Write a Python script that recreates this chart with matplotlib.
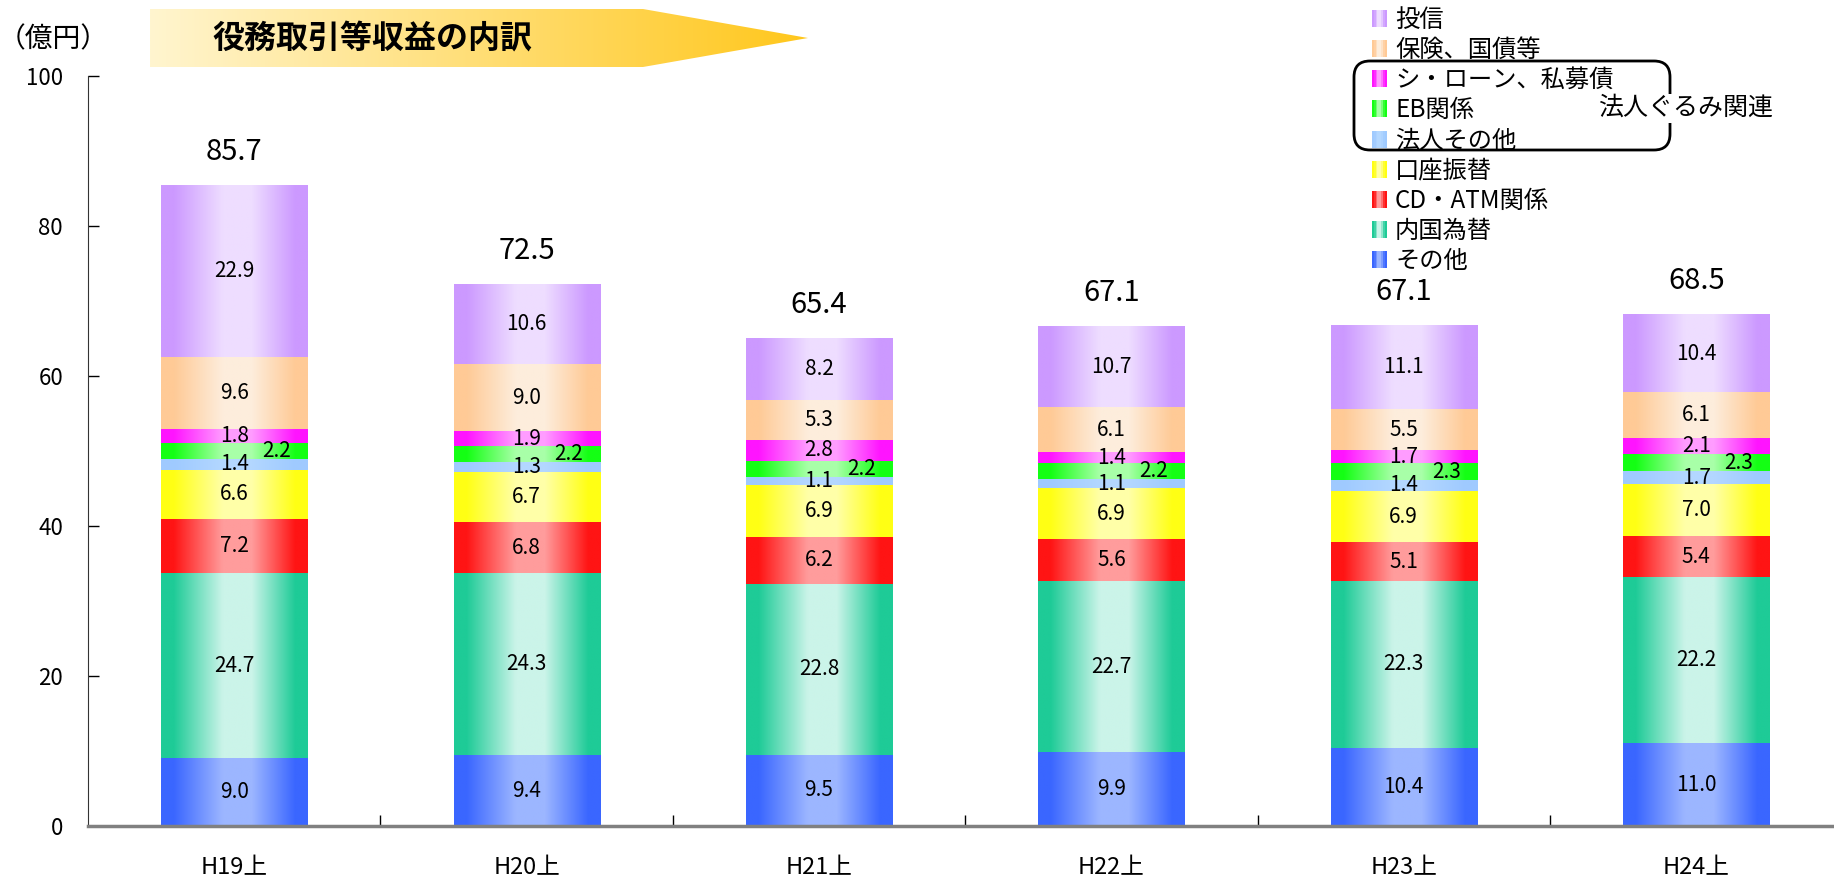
import numpy as np
import matplotlib
matplotlib.use("Agg")
import matplotlib.pyplot as plt
from matplotlib.patches import Rectangle, Polygon, FancyBboxPatch
from matplotlib.legend_handler import HandlerBase

plt.rcParams['font.family'] = ['Noto Sans CJK JP', 'DejaVu Sans']

# data (bottom -> top)
periods = ['H19上', 'H20上', 'H21上', 'H22上', 'H23上', 'H24上']
series = ['その他', '内国為替', 'CD・ATM関係', '口座振替', '法人その他',
          'EB関係', 'シ・ローン、私募債', '保険、国債等', '投信']
sonota = [9.0, 9.4, 9.5, 9.9, 10.4, 11.0]
naikoku = [24.7, 24.3, 22.8, 22.7, 22.3, 22.2]
cd_atm = [7.2, 6.8, 6.2, 5.6, 5.1, 5.4]
koza = [6.6, 6.7, 6.9, 6.9, 6.9, 7.0]
hojin_other = [1.4, 1.3, 1.1, 1.1, 1.4, 1.7]
eb = [2.2, 2.2, 2.2, 2.2, 2.3, 2.3]
syndicate = [1.8, 1.9, 2.8, 1.4, 1.7, 2.1]
hoken = [9.6, 9.0, 5.3, 6.1, 5.5, 6.1]
toshin = [22.9, 10.6, 8.2, 10.7, 11.1, 10.4]
totals = ['85.7', '72.5', '65.4', '67.1', '67.1', '68.5']

values = [sonota, naikoku, cd_atm, koza, hojin_other, eb, syndicate, hoken, toshin]

# (edge colour, centre colour)
colors = [('#3a66ff', '#9cb6ff'), ('#1ecb97', '#cbf4e9'), ('#ff1414', '#ff9c9c'),
          ('#ffff14', '#ffffa8'), ('#9fcaff', '#b3d7ff'), ('#14ff14', '#a8ffa8'),
          ('#ff14ff', '#ff9cff'), ('#ffca96', '#fdeddc'), ('#cc99ff', '#eeddff')]


def profile(n=64):
    t = np.linspace(0, 1, n)
    return np.interp(t, [0, 0.08, 0.42, 0.62, 0.92, 1], [0, 0, 1, 1, 0, 0])


def grad_row(edge, center, n=64):
    e = np.array(matplotlib.colors.to_rgb(edge))
    c = np.array(matplotlib.colors.to_rgb(center))
    w = profile(n)[:, None]
    return (e * (1 - w) + c * w)[None, :, :]


class Swatch:
    def __init__(self, edge, center):
        self.edge, self.center = edge, center


class SwatchHandler(HandlerBase):
    def create_artists(self, legend, h, xd, yd, width, height, fontsize, trans):
        row = grad_row(h.edge, h.center, 8)[0]
        arts = []
        for k in range(8):
            r = Rectangle((-xd + width * k / 8, -yd), width / 8 + 0.3, height,
                          facecolor=row[k], edgecolor='none', transform=trans)
            arts.append(r)
        return arts


W, H = 1834, 881
fig = plt.figure(figsize=(W / 100, H / 100), dpi=100)
ax = fig.add_axes([88 / W, 55 / H, 6 * 292.4 / W, 750 / H])

x = np.arange(len(periods))
bottom = np.zeros(len(periods))
for vals, (edge, center) in zip(values, colors):
    bars = ax.bar(x, vals, bottom=bottom, width=0.5, color='none', edgecolor='none')
    img = grad_row(edge, center)
    for rect in bars:
        x0, y0 = rect.get_x(), rect.get_y()
        ax.imshow(img, extent=[x0, x0 + rect.get_width(), y0, y0 + rect.get_height()],
                  aspect='auto', origin='lower', interpolation='bilinear', zorder=2)
    bottom = bottom + np.array(vals)

# segment labels
bottom = np.zeros(len(periods))
for si, vals in enumerate(values):
    for i, v in enumerate(vals):
        dx = 0.145 if series[si] == 'EB関係' else 0
        ax.text(x[i] + dx, bottom[i] + v / 2, f'{v:.1f}', ha='center', va='center',
                fontsize=15, zorder=4)
    bottom = bottom + np.array(vals)

for i, t in enumerate(totals):
    ax.annotate(t, (x[i], bottom[i]), xytext=(0, 24), textcoords='offset points',
                ha='center', va='center', fontsize=21)

ax.set_xlim(-0.5, 5.5)
ax.set_ylim(0, 100)
ax.set_yticks(np.arange(0, 101, 20))
ax.set_xticks(x)
ax.set_xticklabels(periods)
ax.set_xticks(x[:-1] + 0.5, minor=True)
ax.tick_params(axis='y', direction='in', length=8, width=1, labelsize=16, pad=18)
ax.tick_params(axis='x', which='major', length=0, labelsize=17, pad=22)
ax.tick_params(axis='x', which='minor', direction='in', length=8, width=1)
for s in ['top', 'right']:
    ax.spines[s].set_visible(False)
ax.spines['left'].set_color('#333333')
ax.spines['bottom'].set_color('#808080')
ax.spines['bottom'].set_linewidth(2.5)
ax.spines['bottom'].set_zorder(3)

# legend (top -> bottom)
handles = [Swatch(*c) for c in colors][::-1]
fig.legend(handles, series[::-1], handler_map={Swatch: SwatchHandler()},
           loc='upper left', bbox_to_anchor=(1372 / W, 1 - 7 / H), frameon=False,
           fontsize=17.5, handlelength=0.6, handleheight=0.7, handletextpad=0.35,
           labelspacing=0.17, borderpad=0, borderaxespad=0)

# overlay in pixel coordinates for decorations
ov = fig.add_axes([0, 0, 1, 1], zorder=10)
ov.set_xlim(0, W)
ov.set_ylim(H, 0)
ov.axis('off')

arrow = Polygon([(150, 9), (643, 9), (808, 38), (643, 67), (150, 67)], closed=True,
                facecolor='none', edgecolor='none')
ov.add_patch(arrow)
tg = np.linspace(0, 1, 256)[None, :, None]
c0 = np.array(matplotlib.colors.to_rgb('#fff5cf'))
c1 = np.array(matplotlib.colors.to_rgb('#ffc71c'))
gimg = c0 * (1 - tg) + c1 * tg
im = ov.imshow(gimg, extent=[150, 808, 67, 9], aspect='auto', interpolation='bilinear')
im.set_clip_path(arrow)
ov.set_xlim(0, W)
ov.set_ylim(H, 0)
ov.text(372, 40, '役務取引等収益の内訳', ha='center', va='center', fontsize=23,
        fontweight='bold')
ov.text(53, 39, '（億円）', ha='center', va='center', fontsize=20)

box = FancyBboxPatch((1354, 61), 316, 89, boxstyle='round,pad=0,rounding_size=16',
                     facecolor='none', edgecolor='black', linewidth=2)
ov.add_patch(box)
ov.text(1686, 108, '法人ぐるみ関連', ha='center', va='center', fontsize=18,
        bbox=dict(facecolor='white', edgecolor='none', pad=1))

fig.savefig('out.png', dpi=100)
